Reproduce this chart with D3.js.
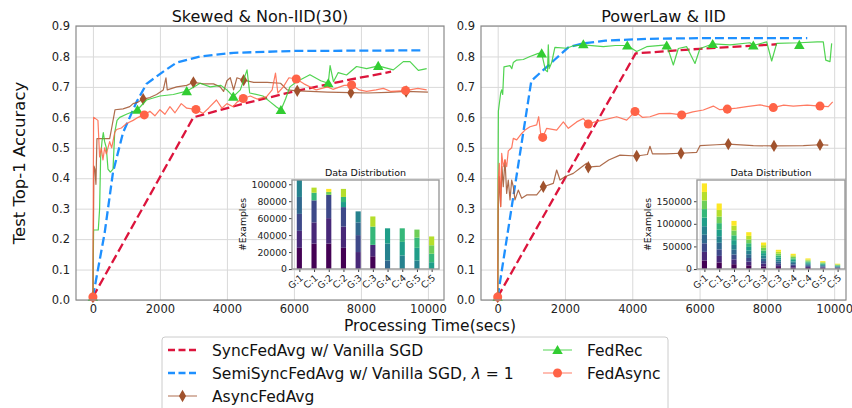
<!DOCTYPE html>
<html>
<head>
<meta charset="utf-8">
<script src="https://cdn.jsdelivr.net/npm/d3@7"></script>
<style>
  body { margin: 0; background: #fff; }
  svg { display: block; font-family: "DejaVu Sans", sans-serif; }
</style>
</head>
<body>
<svg id="chart" width="852" height="408"></svg>
<script>
// ---- data ----
const xTicks = [0, 2000, 4000, 6000, 8000, 10000];
const yTicks = [0, 0.1, 0.2, 0.3, 0.4, 0.5, 0.6, 0.7, 0.8, 0.9];
const panelTitles = ["Skewed & Non-IID(30)", "PowerLaw & IID"];
const seriesNames = ["SyncFedAvg w/ Vanilla SGD", "SemiSyncFedAvg w/ Vanilla SGD, ", "AsyncFedAvg", "FedRec", "FedAsync"];

// left panel: Skewed & Non-IID(30)
const leftSync = [[0,0.01],[3000,0.60],[4500,0.645],[6000,0.685],[7500,0.72],[8900,0.75]];
const leftSemi = [[0,0.01],[350,0.22],[600,0.42],[900,0.55],[1300,0.65],[1600,0.71],[2100,0.75],[2500,0.78],[3200,0.80],[4200,0.812],[6000,0.818],[9800,0.82]];
const leftAsync = [[0,0.01],[30,0.44],[60,0.43],[90,0.38],[120,0.53],[300,0.53],[500,0.53],[560,0.565],[660,0.625],[900,0.628],[1100,0.635],[1200,0.645],[1350,0.65],[1500,0.66],[1700,0.665],[1900,0.675],[2100,0.69],[2180,0.73],[2220,0.69],[2500,0.70],[2800,0.705],[3000,0.715],[3300,0.71],[3600,0.71],[3800,0.70],[3900,0.685],[4000,0.72],[4100,0.73],[4200,0.69],[4300,0.73],[4500,0.722],[4800,0.715],[5200,0.715],[5600,0.712],[5800,0.69],[6100,0.687],[6500,0.685],[7000,0.683],[7700,0.681],[8200,0.68],[8800,0.682],[9350,0.685],[10000,0.683]];
const leftRec = [[0,0.01],[20,0.23],[160,0.23],[200,0.30],[230,0.47],[270,0.52],[310,0.55],[350,0.52],[400,0.50],[450,0.43],[520,0.42],[600,0.43],[650,0.55],[720,0.59],[800,0.60],[1000,0.61],[1330,0.625],[1600,0.657],[2000,0.67],[2400,0.675],[2800,0.686],[3200,0.712],[3500,0.70],[3820,0.705],[4000,0.69],[4190,0.668],[4400,0.69],[4600,0.756],[4680,0.68],[5075,0.67],[5300,0.65],[5480,0.634],[5612,0.624],[5750,0.66],[5880,0.70],[6080,0.717],[6478,0.74],[6800,0.72],[7025,0.712],[7080,0.77],[7180,0.717],[7323,0.747],[7572,0.739],[7870,0.767],[8170,0.76],[8517,0.769],[8967,0.756],[9266,0.783],[9465,0.783],[9714,0.754],[9963,0.76]];
const leftFedAsync = [[0,0.01],[20,0.60],[150,0.59],[200,0.47],[250,0.50],[300,0.46],[350,0.50],[400,0.48],[500,0.52],[560,0.50],[650,0.55],[707,0.56],[850,0.565],[1005,0.58],[1200,0.59],[1350,0.60],[1533,0.608],[1700,0.62],[1850,0.605],[2000,0.625],[2150,0.61],[2300,0.635],[2450,0.615],[2637,0.645],[2800,0.63],[3075,0.626],[3287,0.613],[3450,0.63],[3688,0.657],[3850,0.63],[4000,0.645],[4186,0.635],[4300,0.65],[4487,0.662],[4700,0.67],[4900,0.66],[5185,0.668],[5350,0.69],[5450,0.745],[5520,0.68],[5683,0.70],[5850,0.73],[6070,0.726],[6300,0.71],[6667,0.69],[7000,0.70],[7164,0.692],[7500,0.705],[7722,0.706],[7950,0.69],[8170,0.685],[8450,0.69],[8668,0.695],[8900,0.685],[9333,0.688],[9700,0.695],[9963,0.69]];
const leftAsyncMarks = [[0,0.01],[1500,0.66],[3000,0.715],[4500,0.722],[6100,0.687],[7700,0.681],[9350,0.685]];
const leftRecMarks = [[0,0.01],[1330,0.625],[2800,0.686],[4190,0.668],[5612,0.624],[7025,0.712],[8517,0.769]];
const leftFedAsyncMarks = [[0,0.01],[1533,0.608],[3075,0.626],[4487,0.662],[6070,0.726],[7722,0.706],[9333,0.688]];

// right panel: PowerLaw & IID
const rightSync = [[0,0.01],[4100,0.81],[6000,0.825],[8300,0.84]];
const rightSemi = [[0,0.01],[1000,0.72],[1300,0.75],[1700,0.79],[2100,0.83],[2500,0.842],[3200,0.852],[4500,0.858],[6000,0.86],[9200,0.86]];
const rightAsync = [[0,0.01],[20,0.30],[48,0.405],[89,0.307],[128,0.438],[166,0.372],[217,0.46],[267,0.35],[315,0.394],[366,0.329],[416,0.394],[464,0.372],[514,0.329],[612,0.361],[713,0.334],[862,0.345],[1159,0.345],[1356,0.372],[1653,0.383],[1753,0.427],[1852,0.394],[2000,0.405],[2247,0.416],[2446,0.433],[2645,0.449],[2693,0.436],[2841,0.438],[3040,0.44],[3300,0.46],[3635,0.476],[4131,0.473],[4450,0.478],[4526,0.505],[4600,0.48],[5000,0.48],[5448,0.482],[5914,0.485],[6012,0.507],[6500,0.51],[6854,0.512],[7597,0.507],[8212,0.506],[9083,0.507],[9579,0.51],[9826,0.509]];
const rightRec = [[0,0.01],[10,0.40],[20,0.62],[89,0.68],[119,0.69],[149,0.675],[187,0.766],[366,0.77],[420,0.76],[464,0.78],[565,0.788],[761,0.79],[960,0.80],[1207,0.81],[1307,0.81],[1420,0.755],[1480,0.75],[1504,0.838],[1530,0.76],[1605,0.78],[1700,0.83],[2051,0.827],[2247,0.835],[2545,0.838],[3139,0.832],[3500,0.836],[3852,0.836],[4131,0.816],[4429,0.832],[5023,0.838],[5220,0.772],[5368,0.826],[5617,0.832],[5864,0.777],[6012,0.826],[6390,0.841],[6904,0.838],[7499,0.845],[7597,0.836],[7995,0.848],[8143,0.785],[8292,0.843],[8964,0.845],[9500,0.848],[9677,0.848],[9750,0.788],[9876,0.783],[9926,0.843]];
const rightFedAsync = [[0,0.01],[10,0.30],[20,0.394],[48,0.449],[89,0.307],[119,0.482],[166,0.438],[217,0.46],[267,0.438],[315,0.49],[416,0.50],[464,0.531],[565,0.526],[713,0.547],[812,0.558],[960,0.569],[1159,0.575],[1218,0.602],[1277,0.547],[1337,0.534],[1456,0.564],[1753,0.558],[1951,0.585],[2100,0.564],[2348,0.585],[2545,0.596],[2693,0.578],[2892,0.585],[3100,0.59],[3537,0.602],[3834,0.591],[4081,0.619],[4300,0.60],[4526,0.602],[4800,0.612],[5121,0.613],[5468,0.608],[5800,0.618],[6111,0.624],[6408,0.637],[6600,0.625],[6824,0.627],[7100,0.63],[7400,0.635],[7796,0.641],[8191,0.632],[8500,0.64],[8786,0.637],[9200,0.64],[9579,0.637],[9826,0.635],[9956,0.651]];
const rightAsyncMarks = [[0,0.01],[1356,0.372],[2693,0.436],[4131,0.473],[5448,0.482],[6854,0.512],[8212,0.506],[9579,0.51]];
const rightRecMarks = [[0,0.01],[1307,0.81],[2545,0.84],[3852,0.836],[5023,0.836],[6390,0.841],[7597,0.836],[8964,0.838]];
const rightFedAsyncMarks = [[0,0.01],[1337,0.534],[2693,0.578],[4081,0.619],[5468,0.608],[6824,0.627],[8191,0.632],[9579,0.637]];

// inset: data distribution, examples per class (10 classes) for each client group
const insetLabels = ["G:1","C:1","G:2","C:2","G:3","C:3","G:4","C:4","G:5","C:5"];
const leftInsetTicks = [0, 20000, 40000, 60000, 80000, 100000];
const leftInsetCounts = [
  [25000,20000,20000,20000,20000,0,0,0,0,0],
  [30000,25000,26000,0,0,0,9000,0,6000,0],
  [30000,30000,27500,0,0,0,0,3500,0,3500],
  [25000,25000,23000,0,0,6000,6000,0,9500,0],
  [0,20000,20000,15000,13000,0,0,0,0,0],
  [15000,13500,0,0,0,0,21500,0,12000,0],
  [0,0,0,10000,20000,18000,0,0,0,0],
  [0,0,0,0,16000,16000,16000,0,0,0],
  [0,0,0,0,10000,15000,12000,9500,0,0],
  [0,0,0,0,0,8000,10000,10000,10400,0]
];
const rightInsetTicks = [0, 50000, 100000, 150000];
const rightInsetCounts = [
  [18950,18950,18950,18950,18950,18950,18950,18950,18950,18950],
  [14500,14500,14500,14500,14500,14500,14500,14500,14500,14500],
  [10650,10650,10650,10650,10650,10650,10650,10650,10650,10650],
  [8150,8150,8150,8150,8150,8150,8150,8150,8150,8150],
  [5860,5860,5860,5860,5860,5860,5860,5860,5860,5860],
  [4250,4250,4250,4250,4250,4250,4250,4250,4250,4250],
  [3370,3370,3370,3370,3370,3370,3370,3370,3370,3370],
  [2340,2340,2340,2340,2340,2340,2340,2340,2340,2340],
  [1760,1760,1760,1760,1760,1760,1760,1760,1760,1760],
  [1170,1170,1170,1170,1170,1170,1170,1170,1170,1170]
];

// ---- styles ----
const styles = [
  { color: "#DC143C", dash: "9,4", width: 2.3 },
  { color: "#1E90FF", dash: "9,4", width: 2.3 },
  { color: "#A0522D", width: 1.2, marker: "diamond" },
  { color: "#32CD32", width: 1.2, marker: "triangle" },
  { color: "#FF6347", width: 1.2, marker: "circle" }
];

const panels = [
  {
    title: panelTitles[0], x0: 76, x1: 444, xDomain: [-505, 10480],
    lines: [leftSync, leftSemi, leftAsync, leftRec, leftFedAsync],
    marks: [null, null, leftAsyncMarks, leftRecMarks, leftFedAsyncMarks],
    inset: { x0: 292, x1: 439, yMax: 105000, ticks: leftInsetTicks, counts: leftInsetCounts, ylabelX: 243 }
  },
  {
    title: panelTitles[1], x0: 481, x1: 846, xDomain: [-496, 10352],
    lines: [rightSync, rightSemi, rightAsync, rightRec, rightFedAsync],
    marks: [null, null, rightAsyncMarks, rightRecMarks, rightFedAsyncMarks],
    inset: { x0: 697, x1: 845, yMax: 197000, ticks: rightInsetTicks, counts: rightInsetCounts, ylabelX: 648 }
  }
];

const plotTop = 26, plotBottom = 300;
const gridColor = "#d9d9d9";
const spineColor = "#8a8a8a";
const svg = d3.select("#chart");

function markerPath(type) {
  if (type === "circle") return d3.symbol(d3.symbolCircle, 64)();
  if (type === "triangle") return d3.symbol(d3.symbolTriangle, 48)();
  return d3.symbol(d3.symbolDiamond, 44)();
}
function markerTransform(type, x, y) {
  if (type === "triangle") return `translate(${x},${y + 1})`;
  return `translate(${x},${y})`;
}

panels.forEach(p => {
  const x = d3.scaleLinear().domain(p.xDomain).range([p.x0, p.x1]);
  const y = d3.scaleLinear().domain([0, 0.9]).range([plotBottom, plotTop]);
  const g = svg.append("g");

  // grid
  g.append("g").attr("transform", `translate(0,${plotBottom})`)
    .call(d3.axisBottom(x).tickValues(xTicks).tickSize(-(plotBottom - plotTop)).tickFormat(""))
    .call(a => a.select(".domain").remove())
    .call(a => a.selectAll("line").attr("stroke", gridColor).attr("stroke-width", 1));
  g.append("g").attr("transform", `translate(${p.x0},0)`)
    .call(d3.axisLeft(y).tickValues(yTicks).tickSize(-(p.x1 - p.x0)).tickFormat(""))
    .call(a => a.select(".domain").remove())
    .call(a => a.selectAll("line").attr("stroke", gridColor).attr("stroke-width", 1));

  // tick labels
  g.append("g").attr("transform", `translate(0,${plotBottom})`)
    .call(d3.axisBottom(x).tickValues(xTicks).tickSize(0).tickPadding(5).tickFormat(d3.format("d")))
    .call(a => a.select(".domain").remove())
    .call(a => a.selectAll("text").attr("font-size", 11.5).attr("fill", "#222").attr("font-family", "DejaVu Sans"));
  g.append("g").attr("transform", `translate(${p.x0},0)`)
    .call(d3.axisLeft(y).tickValues(yTicks).tickSize(0).tickPadding(6).tickFormat(d3.format(".1f")))
    .call(a => a.select(".domain").remove())
    .call(a => a.selectAll("text").attr("font-size", 11.5).attr("fill", "#222").attr("font-family", "DejaVu Sans"));

  // title
  g.append("text").attr("x", (p.x0 + p.x1) / 2).attr("y", 22)
    .attr("text-anchor", "middle").attr("font-size", 16).attr("fill", "#111").text(p.title);

  // series
  const line = d3.line().x(d => x(d[0])).y(d => y(d[1]));
  p.lines.forEach((data, i) => {
    const s = styles[i];
    g.append("path").datum(data).attr("d", line)
      .attr("fill", "none").attr("stroke", s.color).attr("stroke-width", s.width)
      .attr("stroke-opacity", s.dash ? 1 : 0.85)
      .attr("stroke-linejoin", "round")
      .attr("stroke-dasharray", s.dash || null);
    if (p.marks[i]) {
      g.append("g").selectAll("path").data(p.marks[i]).join("path")
        .attr("d", markerPath(s.marker))
        .attr("transform", d => markerTransform(s.marker, x(d[0]), y(d[1])))
        .attr("fill", s.color);
    }
  });

  // spines
  g.append("rect").attr("x", p.x0).attr("y", plotTop).attr("width", p.x1 - p.x0).attr("height", plotBottom - plotTop)
    .attr("fill", "none").attr("stroke", spineColor).attr("stroke-width", 1.2);

  // inset
  const ins = p.inset;
  const it = 180, ib = 269;
  const ix = d3.scaleLinear().domain([-0.5, 9.5]).range([ins.x0, ins.x1]);
  const iy = d3.scaleLinear().domain([0, ins.yMax]).range([ib, it]);
  const ig = g.append("g");
  ins.counts.forEach((classes, bi) => {
    let acc = 0;
    classes.forEach((v, ci) => {
      if (v <= 0) return;
      ig.append("rect")
        .attr("x", ix(bi - 0.175)).attr("width", ix(0.35) - ix(0))
        .attr("y", iy(acc + v)).attr("height", iy(acc) - iy(acc + v))
        .attr("fill", d3.interpolateViridis(ci / 9));
      acc += v;
    });
  });
  ig.append("g").attr("transform", `translate(${ins.x0},0)`)
    .call(d3.axisLeft(iy).tickValues(ins.ticks).tickSize(3).tickPadding(2).tickFormat(d3.format("d")))
    .call(a => a.select(".domain").remove())
    .call(a => a.selectAll("line").attr("stroke", "#444"))
    .call(a => a.selectAll("text").attr("font-size", 9.3).attr("fill", "#222").attr("font-family", "DejaVu Sans"));
  ig.append("g").attr("transform", `translate(0,${ib})`)
    .call(d3.axisBottom(ix).tickValues(d3.range(insetLabels.length)).tickSize(3).tickFormat(i => insetLabels[i]))
    .call(a => a.select(".domain").remove())
    .call(a => a.selectAll("line").attr("stroke", "#444"))
    .call(a => a.selectAll("text").attr("font-size", 9.3).attr("fill", "#222").attr("font-family", "DejaVu Sans")
      .attr("text-anchor", "end").attr("dy", null).attr("y", 0)
      .attr("transform", "translate(4,10) rotate(-40)"));
  ig.append("rect").attr("x", ins.x0).attr("y", it).attr("width", ins.x1 - ins.x0).attr("height", ib - it)
    .attr("fill", "none").attr("stroke", "#9a9a9a").attr("stroke-width", 1.4);
  ig.append("text").attr("x", (ins.x0 + ins.x1) / 2).attr("y", 176)
    .attr("text-anchor", "middle").attr("font-size", 9.5).attr("fill", "#111").text("Data Distribution");
  ig.append("text").attr("transform", `translate(${ins.ylabelX},${(it + ib) / 2}) rotate(-90)`)
    .attr("text-anchor", "middle").attr("dy", "0.35em").attr("font-size", 9.3).attr("fill", "#111").text("#Examples");
});

// axis labels
svg.append("text").attr("transform", `translate(19,${(plotTop + plotBottom) / 2}) rotate(-90)`)
  .attr("text-anchor", "middle").attr("dy", "0.35em").attr("font-size", 16.5).attr("fill", "#111").text("Test Top-1 Accuracy");
svg.append("text").attr("x", 430).attr("y", 331)
  .attr("text-anchor", "middle").attr("font-size", 15.5).attr("fill", "#111").text("Processing Time(secs)");

// legend
const lg = svg.append("g");
lg.append("rect").attr("x", 162).attr("y", 337).attr("width", 506).attr("height", 90).attr("rx", 3)
  .attr("fill", "#fff").attr("fill-opacity", 0.8).attr("stroke", "#cccccc").attr("stroke-width", 1);
const legendPos = [
  { hx: 168, tx: 212, y: 350 },
  { hx: 168, tx: 212, y: 373 },
  { hx: 168, tx: 212, y: 396 },
  { hx: 543, tx: 587, y: 350 },
  { hx: 543, tx: 587, y: 373 }
];
seriesNames.forEach((name, i) => {
  const s = styles[i], pos = legendPos[i];
  lg.append("line").attr("x1", pos.hx).attr("x2", pos.hx + 29).attr("y1", pos.y).attr("y2", pos.y)
    .attr("stroke", s.color).attr("stroke-width", s.dash ? 2.3 : 1.2)
    .attr("stroke-opacity", s.dash ? 1 : 0.7)
    .attr("stroke-dasharray", s.dash ? "7,3.5" : null);
  if (s.marker) {
    lg.append("path").attr("d", markerPath(s.marker))
      .attr("transform", markerTransform(s.marker, pos.hx + 14.5, pos.y)).attr("fill", s.color);
  }
  const t = lg.append("text").attr("x", pos.tx).attr("y", pos.y + 5.5)
    .attr("font-size", 15.5).attr("fill", "#111").text(name);
  if (i === 1) {
    t.append("tspan").attr("font-style", "italic").text("λ");
    t.append("tspan").text(" = 1");
  }
});
</script>
</body>
</html>
